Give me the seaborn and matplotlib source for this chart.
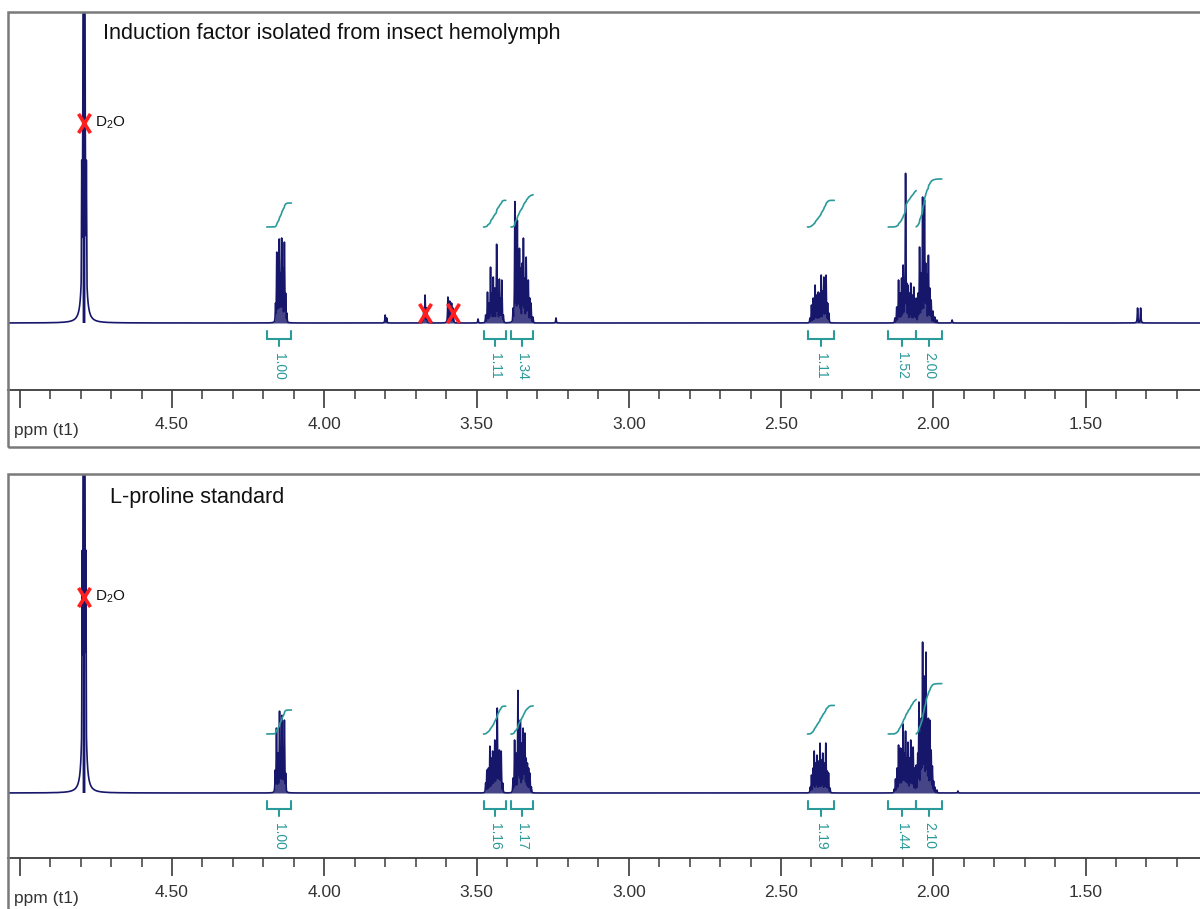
import numpy as np
import matplotlib
matplotlib.use("Agg")
import matplotlib.pyplot as plt
from matplotlib.patches import Rectangle
from matplotlib.path import Path
from matplotlib.ticker import MultipleLocator
import seaborn as sns

# ------------------------------------------------------------------ data
top_title = "Induction factor isolated from insect hemolymph"
bottom_title = "L-proline standard"

major_ticks = [5.00, 4.50, 4.00, 3.50, 3.00, 2.50, 2.00, 1.50]
major_labels = ["", "4.50", "4.00", "3.50", "3.00", "2.50", "2.00", "1.50"]
axis_label = "ppm (t1)"

# D2O solvent signal: main line (ppm, height) and its broadened flanks
top_d2o_ppm = [4.789]
top_d2o_h = [3000]
top_d2o_flank_ppm = [4.7965, 4.7815]
top_d2o_flank_h = [163, 163]
bottom_d2o_ppm = [4.789]
bottom_d2o_h = [3000]
bottom_d2o_flank_ppm = [4.795, 4.783]
bottom_d2o_flank_h = [243, 243]

# resolved lines of the insect sample spectrum (ppm, height)
top_ppm = [
    4.160, 4.156, 4.152, 4.148, 4.144, 4.140, 4.136, 4.131, 4.127, 4.123,
    3.800, 3.795, 3.673, 3.669, 3.664, 3.594, 3.588, 3.582, 3.577, 3.495,
    3.470, 3.464, 3.459, 3.454, 3.450, 3.445, 3.440, 3.434, 3.430, 3.425, 3.421, 3.417, 3.412,
    3.380, 3.374, 3.370, 3.366, 3.362, 3.359, 3.355, 3.350, 3.346, 3.342, 3.337, 3.333, 3.330,
    3.325, 3.321, 3.315, 3.239,
    2.405, 2.400, 2.394, 2.388, 2.383, 2.378, 2.373, 2.368, 2.363, 2.359, 2.355, 2.352, 2.347, 2.343,
    2.126, 2.120, 2.114, 2.109, 2.104, 2.099, 2.095, 2.091, 2.087, 2.083, 2.078, 2.074, 2.069,
    2.064, 2.060, 2.056, 2.050, 2.045, 2.040, 2.035, 2.029, 2.025, 2.022, 2.016, 2.011, 2.007,
    2.001, 1.995, 1.988, 1.938, 1.329, 1.319,
]
top_h = [
    20, 71, 45, 84, 50, 85, 55, 81, 30, 10,
    8, 5, 15, 28, 15, 26, 22, 20, 15, 4,
    8, 31, 20, 56, 30, 46, 35, 79, 30, 44, 25, 43, 8,
    15, 122, 50, 103, 60, 75, 55, 60, 85, 45, 66, 40, 43,
    25, 20, 6, 5,
    5, 18, 25, 38, 28, 31, 30, 48, 32, 46, 30, 48, 20, 10,
    5, 16, 43, 30, 45, 58, 35, 150, 40, 38, 30, 40, 28,
    36, 22, 25, 30, 76, 50, 126, 123, 60, 49, 68, 35, 23,
    12, 6, 3, 3, 15, 15,
]

# resolved lines of the L-proline standard (ppm, height)
bottom_ppm = [
    4.161, 4.157, 4.152, 4.147, 4.143, 4.139, 4.135, 4.131, 4.127,
    3.470, 3.466, 3.461, 3.456, 3.451, 3.447, 3.443, 3.440, 3.436, 3.432, 3.428, 3.425, 3.422, 3.419, 3.414,
    3.380, 3.375, 3.370, 3.364, 3.360, 3.356, 3.351, 3.347, 3.344, 3.341, 3.337, 3.333, 3.329, 3.325, 3.320,
    2.404, 2.400, 2.395, 2.391, 2.386, 2.382, 2.377, 2.372, 2.367, 2.363, 2.358, 2.353, 2.348, 2.344, 2.339,
    2.128, 2.124, 2.119, 2.114, 2.110, 2.107, 2.103, 2.099, 2.095, 2.091, 2.087, 2.083, 2.078, 2.074,
    2.070, 2.066, 2.061, 2.056, 2.051, 2.047, 2.042, 2.039, 2.035, 2.031, 2.029, 2.024, 2.020, 2.016,
    2.011, 2.007, 2.003, 1.999, 1.995, 1.988, 1.919,
]
bottom_h = [
    23, 65, 40, 82, 45, 78, 45, 73, 20,
    10, 23, 25, 47, 35, 42, 40, 53, 45, 85, 40, 43, 30, 42, 10,
    15, 53, 40, 103, 50, 73, 50, 65, 45, 60, 35, 30, 25, 20, 6,
    6, 18, 25, 42, 30, 38, 32, 50, 33, 40, 30, 50, 22, 20, 5,
    4, 14, 25, 48, 35, 45, 40, 69, 40, 62, 35, 51, 35, 53,
    30, 46, 25, 28, 40, 91, 60, 75, 151, 90, 117, 141, 70, 75,
    73, 43, 27, 12, 6, 3, 2,
]

# integration regions (start ppm, end ppm) and integral values
int_start = [4.189, 3.477, 3.387, 2.413, 2.148, 2.056]
int_end = [4.108, 3.404, 3.314, 2.325, 2.056, 1.972]
top_integrals = [1.00, 1.11, 1.34, 1.11, 1.52, 2.00]
bottom_integrals = [1.00, 1.16, 1.17, 1.19, 1.44, 2.10]

# crossed-out signals (ppm, height)
top_cross_ppm = [4.789, 3.669, 3.577]
top_cross_h = [200, 10, 10]
bottom_cross_ppm = [4.789]
bottom_cross_h = [196]
solvent_label = "D$_2$O"

# ------------------------------------------------------------------ style
sns.set_theme(style="white")
plt.rcParams["font.family"] = ["Liberation Sans", "DejaVu Sans"]
plt.rcParams["mathtext.default"] = "regular"

NAVY = "#16166a"
TEAL = "#2a9a9a"
RED = "#ff1f1f"
FRAME = "#7a7a7a"
TICKC = "#3a3a3a"

W, H = 1200, 909
XL, XR = 5.04, 1.10

CROSS = Path([(-0.62, -1.0), (0.62, 1.0), (-0.62, 1.0), (0.62, -1.0)],
             [Path.MOVETO, Path.LINETO, Path.MOVETO, Path.LINETO])


def fx(px):
    return px / W


def fy(py):
    return 1 - py / H


fig = plt.figure(figsize=(12, 9.09), dpi=100)

grid = np.linspace(XL, XR, 26000)
LW = 0.0011


def render(ppm, h):
    """Lorentzian line shape for each listed line; envelope = max of lines."""
    p = np.asarray(ppm, float)[:, None]
    a = np.asarray(h, float)[:, None]
    return (a / (1.0 + ((grid[None, :] - p) / LW) ** 2)).max(axis=0)


def panel(top_px, axis_px, bottom_px, base_px, ppm, h, d2o_ppm, d2o_h,
          flank_ppm, flank_h, integrals, int_base, cross_ppm, cross_h,
          title, title_xy):
    left_px = 7.6
    right_px = 172 + (4.5 - XR) * 304.5
    ax = fig.add_axes([fx(left_px), fy(axis_px), (right_px - left_px) / W,
                       (axis_px - top_px) / H])
    ax.set_xlim(XL, XR)
    ax.set_ylim(-(axis_px - base_px), base_px - top_px)

    multi = render(ppm, h)
    solvent = render(d2o_ppm, d2o_h)
    flank = render(flank_ppm, flank_h)
    spec = np.maximum(np.maximum(multi, solvent), flank)
    ax.fill_between(grid, 0, multi, color=NAVY, alpha=0.8, linewidth=0)
    ax.fill_between(grid, 0, solvent, where=solvent > 150, color=NAVY,
                    alpha=1.0, linewidth=0)
    sns.lineplot(x=grid, y=spec, ax=ax, color=NAVY, linewidth=1.2,
                 estimator=None, sort=False)

    # integrals and brackets
    for a, b, v in zip(int_start, int_end, integrals):
        m = (grid <= a) & (grid >= b)
        xs = grid[m]
        c = np.cumsum(spec[m])
        c = c / c[-1]
        sns.lineplot(x=xs, y=int_base + 24 * v * c, ax=ax, color=TEAL,
                     linewidth=1.2, estimator=None, sort=False)
        mid = (a + b) / 2
        ax.plot([a, a, b, b], [-7.5, -15.5, -15.5, -7.5], color=TEAL, lw=1.5,
                solid_joinstyle="miter")
        ax.plot([mid, mid], [-15.5, -22.5], color=TEAL, lw=1.5)
        ax.text(mid, -43, f"{v:.2f}", rotation=-90, ha="center", va="center",
                color=TEAL, fontsize=10)

    sns.scatterplot(x=cross_ppm, y=cross_h, ax=ax, marker=CROSS, s=190,
                    color=RED, edgecolor=RED, linewidth=2.6, zorder=5)
    ax.annotate(solvent_label, xy=(cross_ppm[0], cross_h[0]), xytext=(8, 0),
                textcoords="offset points", ha="left", va="center",
                fontsize=11, color="#111111")

    for s in ["top", "left", "right"]:
        ax.spines[s].set_visible(False)
    ax.spines["bottom"].set_color(TICKC)
    ax.spines["bottom"].set_linewidth(1.3)
    ax.set_yticks([])
    ax.set_xticks(major_ticks)
    ax.set_xticklabels(major_labels)
    ax.xaxis.set_minor_locator(MultipleLocator(0.1))
    ax.tick_params(axis="x", which="major", direction="out", length=13,
                   width=1.2, color=TICKC, labelcolor="#333333",
                   labelsize=12.5, pad=6.5, bottom=True)
    ax.tick_params(axis="x", which="minor", direction="out", length=6.5,
                   width=1.1, color=TICKC, bottom=True)
    ax.set_xlabel("")
    ax.set_ylabel("")
    ax.patch.set_alpha(0)

    fig.text(fx(14), fy(axis_px + 40), axis_label, fontsize=12.5,
             color="#333333", ha="left", va="center")
    fig.text(fx(title_xy[0]), fy(title_xy[1]), title, fontsize=15.6,
             color="#111111", ha="left", va="center")
    fig.add_artist(Rectangle((fx(left_px), fy(bottom_px)),
                             (right_px - left_px) / W,
                             (bottom_px - top_px) / H,
                             transform=fig.transFigure, fill=False,
                             ec=FRAME, lw=1.8))


panel(12, 390, 447, 323, top_ppm, top_h, top_d2o_ppm, top_d2o_h,
      top_d2o_flank_ppm, top_d2o_flank_h,
      top_integrals, 96, top_cross_ppm, top_cross_h, top_title, (103, 33))
panel(474, 858, 940, 793, bottom_ppm, bottom_h, bottom_d2o_ppm, bottom_d2o_h,
      bottom_d2o_flank_ppm, bottom_d2o_flank_h,
      bottom_integrals, 59, bottom_cross_ppm, bottom_cross_h, bottom_title,
      (110, 497))

fig.savefig("out.png", dpi=100)
